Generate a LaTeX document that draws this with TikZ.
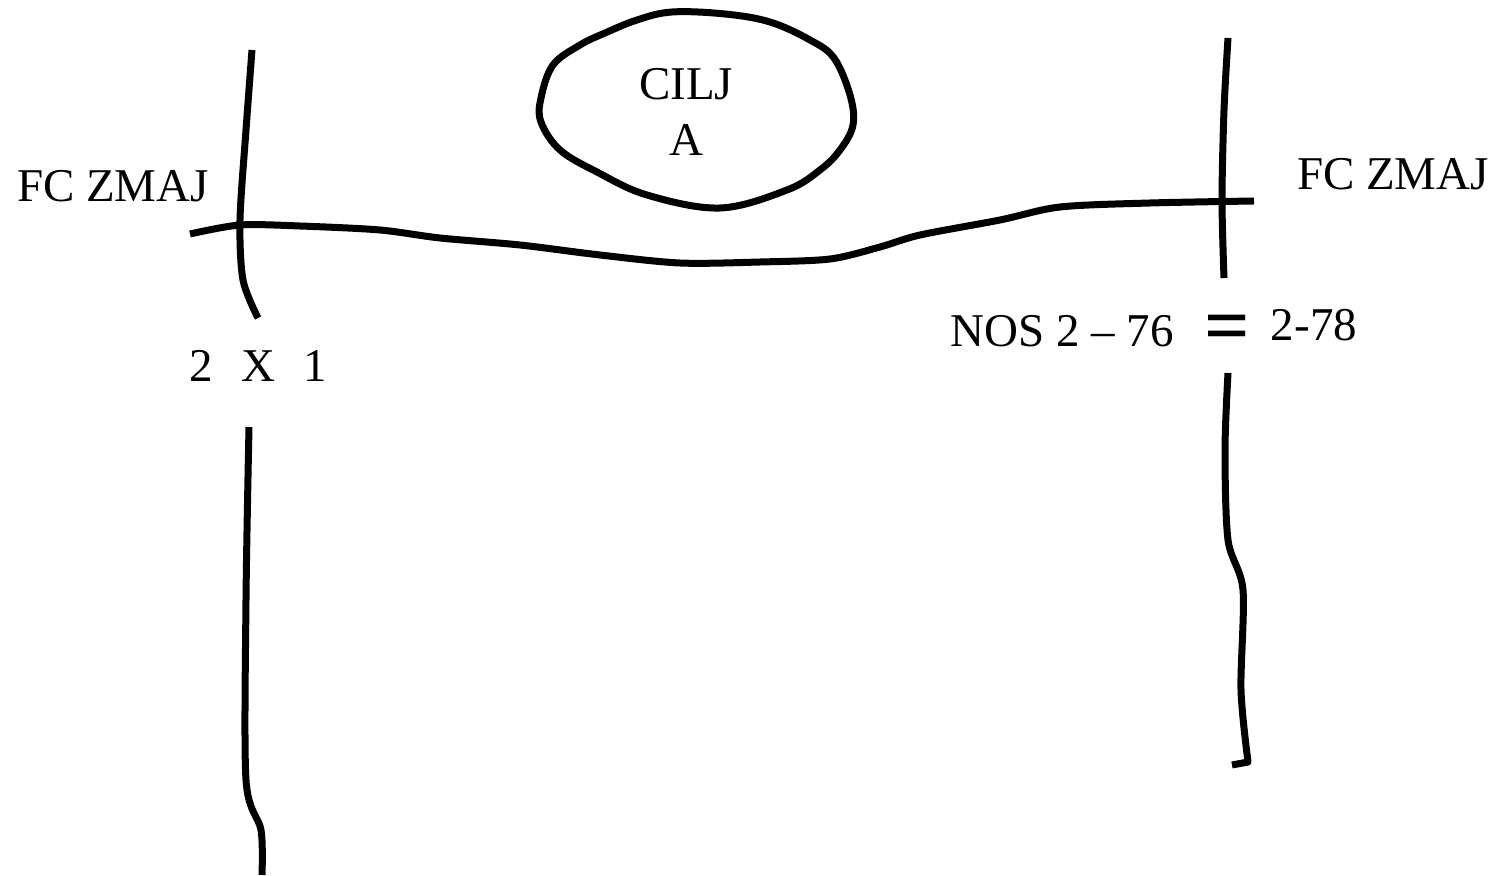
\documentclass[tikz,border=0pt]{standalone}
\usepackage{fontspec}
\setmainfont{Liberation Serif}
\usetikzlibrary{positioning}

\begin{document}
\begin{tikzpicture}[x=0.5pt, y=-0.5pt,
    pen/.style={line width=3.5pt, line join=round},
    lbl/.style={font=\fontsize{23.5}{28}\selectfont, inner sep=0pt}]
  \useasboundingbox (0,0) rectangle (1499,876);
  % left post
  \draw[pen] plot[smooth] coordinates {(252,50) (246,130) (240,220) (243,280) (258,318)};
  \draw[pen] plot[smooth] coordinates {(249,427) (246,600) (246,780) (261,830) (262,875)};
  % right post
  \draw[pen] plot[smooth] coordinates {(1228,38) (1224,110) (1222,200) (1224,278)};
  \draw[pen] plot[smooth] coordinates {(1228,373) (1225,450) (1228,540) (1243,590) (1241,690) (1248,762)} -- (1232,765);
  % crossbar
  \draw[pen] plot[smooth] coordinates {(190,234) (240,225) (300,226) (380,230) (440,238) (520,245)
    (600,255) (680,263) (760,262) (830,259) (880,247) (920,235) (1000,220) (1060,207) (1150,203) (1254,201)};
  % goal bubble
  \draw[pen] plot[smooth cycle, tension=0.6] coordinates {(672,12) (725,14) (770,22) (810,40) (834,58) (850,95)
    (853,125) (840,150) (820,170) (787,190) (720,208) (647,195) (597,172) (560,150) (541,122)
    (541,98) (553,65) (580,45) (605,33) (637,20)};
  \node[lbl, align=center] (cilj) at (686,112) {CILJ\\A};
  \node[lbl] (zmajL) at (113,186) {FC ZMAJ};
  \node[lbl] (zmajR) at (1393,174) {FC ZMAJ};
  \node[lbl] (score) at (258,366) {2\hspace{0.6em}X\hspace{0.6em}1};
  \node[lbl] (nos) at (1062,331) {NOS 2 – 76};
  \node[font=\fontsize{40}{40}\selectfont\bfseries, inner sep=0pt] (eq) at (1227,334) {=};
  \node[lbl] (res) at (1314,325) {2-78};
\end{tikzpicture}
\end{document}
